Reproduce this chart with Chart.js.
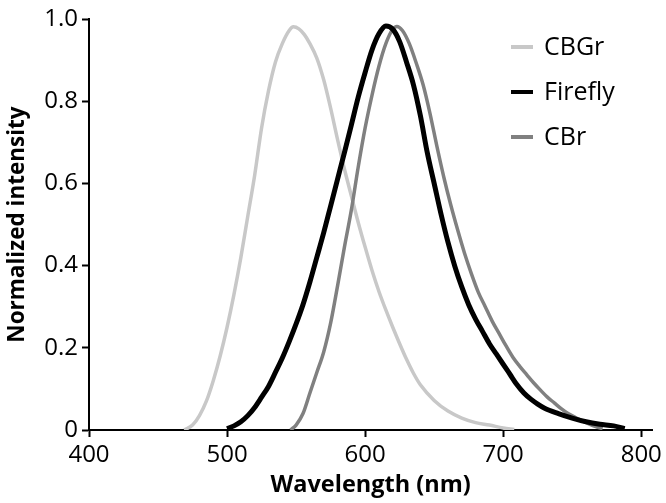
<!DOCTYPE html>
<html>
<head>
<meta charset="utf-8">
<script src="https://cdn.jsdelivr.net/npm/chart.js@4"></script>
<style>
html,body{margin:0;padding:0;background:#fff;}
#wrap{width:666px;height:503px;position:relative;}
</style>
</head>
<body>
<div id="wrap"><canvas id="c" width="666" height="503"></canvas></div>
<script>
const seriesNames = ['CBGr', 'Firefly', 'CBr'];
const seriesColors = ['#c8c8c8', '#000000', '#808080'];

const cbgrNm = [469,475,480,485,490,495,500,505,510,515,520,525,530,535,540,545,548,552,556,560,565,570,575,580,585,590,595,600,605,610,615,620,625,630,635,640,650,660,670,680,690,700,708];
const cbgrVal = [0,0.012,0.035,0.07,0.12,0.18,0.25,0.33,0.42,0.52,0.62,0.735,0.825,0.895,0.94,0.972,0.981,0.976,0.962,0.94,0.905,0.852,0.783,0.707,0.635,0.57,0.505,0.445,0.388,0.337,0.292,0.25,0.21,0.172,0.138,0.11,0.072,0.046,0.029,0.018,0.012,0.005,0.001];

const fireflyNm = [500,505,510,515,520,525,530,535,540,545,550,555,560,565,570,575,580,585,590,595,600,605,610,615,620,625,630,635,640,645,650,655,660,665,670,675,680,685,690,695,700,705,710,715,720,725,730,740,750,760,770,780,788];
const fireflyVal = [0.003,0.01,0.02,0.035,0.055,0.08,0.106,0.14,0.175,0.215,0.258,0.305,0.36,0.42,0.48,0.545,0.61,0.675,0.742,0.81,0.87,0.925,0.964,0.983,0.975,0.945,0.895,0.84,0.765,0.675,0.6,0.525,0.457,0.398,0.348,0.305,0.27,0.24,0.21,0.185,0.16,0.135,0.11,0.09,0.075,0.063,0.053,0.04,0.029,0.02,0.014,0.01,0.003];

const cbrNm = [546,550,555,560,565,570,575,580,585,590,595,600,605,610,615,620,623,627,632,637,642,647,652,657,662,667,672,677,682,687,692,697,702,707,712,717,722,727,732,737,742,747,752,757,762,767,772];
const cbrVal = [0,0.012,0.04,0.09,0.14,0.19,0.26,0.35,0.445,0.535,0.64,0.735,0.815,0.885,0.94,0.975,0.982,0.972,0.94,0.893,0.84,0.77,0.69,0.615,0.548,0.487,0.43,0.38,0.335,0.3,0.265,0.235,0.205,0.177,0.155,0.135,0.115,0.097,0.08,0.066,0.052,0.04,0.031,0.023,0.015,0.008,0.003];

const xTicks = [400,500,600,700,800];
const yTicks = [0,0.2,0.4,0.6,0.8,1.0];
const yTickLabels = ['0','0.2','0.4','0.6','0.8','1.0'];

function pts(xs, ys){ return xs.map((x,i)=>({x:x, y:ys[i]})); }

const legendPlugin = {
  id: 'customLegend',
  afterDraw(chart){
    const ctx = chart.ctx;
    ctx.save();
    seriesNames.forEach((name,i)=>{
      const y = 47 + i*45;
      ctx.strokeStyle = seriesColors[i];
      ctx.lineWidth = 4;
      ctx.beginPath();
      ctx.moveTo(511, y);
      ctx.lineTo(533, y);
      ctx.stroke();
      ctx.fillStyle = '#000';
      ctx.font = '25px "Open Sans"';
      ctx.textBaseline = 'middle';
      ctx.textAlign = 'left';
      ctx.fillText(name, 544, y + 1);
    });
    ctx.restore();
  }
};

new Chart(document.getElementById('c'), {
  type: 'line',
  data: {
    datasets: [
      {label: seriesNames[0], data: pts(cbgrNm, cbgrVal), borderColor: seriesColors[0], borderWidth: 3.5, order: 2},
      {label: seriesNames[1], data: pts(fireflyNm, fireflyVal), borderColor: seriesColors[1], borderWidth: 5, order: 0},
      {label: seriesNames[2], data: pts(cbrNm, cbrVal), borderColor: seriesColors[2], borderWidth: 3.5, order: 1}
    ]
  },
  plugins: [legendPlugin],
  options: {
    responsive: false,
    animation: false,
    devicePixelRatio: 1,
    layout: {padding: {top: 19, right: 8, left: 0, bottom: 0}},
    elements: {point: {radius: 0}, line: {cubicInterpolationMode: 'monotone', fill: false}},
    plugins: {legend: {display: false}, tooltip: {enabled: false}},
    scales: {
      x: {
        type: 'linear', min: 400, max: 808,
        afterBuildTicks: s => { s.ticks = xTicks.map(v=>({value:v})); },
        afterFit: s => { s.height = 73; },
        grid: {drawOnChartArea: false, drawTicks: true, tickLength: 7, tickWidth: 2, color: '#000'},
        border: {color: '#000', width: 2},
        ticks: {color: '#000', font: {family: 'Open Sans', size: 24}, padding: 4, maxRotation: 0},
        title: {display: true, text: 'Wavelength (nm)', color: '#000', font: {family: 'Open Sans', size: 23.5, weight: 'bold'}, padding: {top: 0, bottom: 4}}
      },
      y: {
        type: 'linear', min: 0, max: 1,
        afterBuildTicks: s => { s.ticks = yTicks.map(v=>({value:v})); },
        afterFit: s => { s.width = 89; },
        grid: {drawOnChartArea: false, drawTicks: true, tickLength: 7, tickWidth: 2, color: '#000'},
        border: {color: '#000', width: 2},
        ticks: {color: '#000', font: {family: 'Open Sans', size: 24}, padding: 4,
          callback: (v) => { const i = yTicks.indexOf(v); return i >= 0 ? yTickLabels[i] : ''; }},
        title: {display: true, text: 'Normalized intensity', color: '#000', font: {family: 'Open Sans', size: 22.5, weight: 'bold'}, padding: {top: 4, bottom: 0}}
      }
    }
  }
});
</script>
</body>
</html>
